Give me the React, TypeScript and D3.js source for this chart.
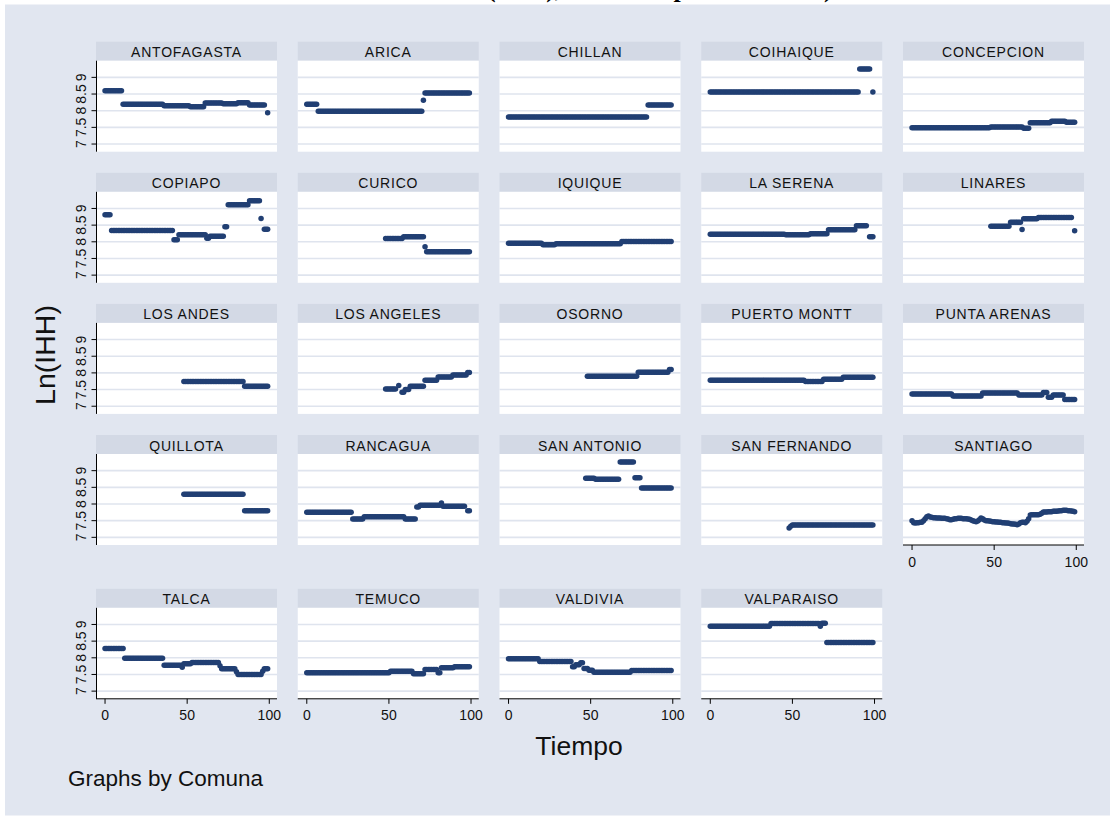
import React, { useEffect } from 'react';
import * as d3 from 'd3';

// [first t, last t, value] -- value held constant over the run
type Run = [number, number, number];

const COMUNAS = [
  'ANTOFAGASTA', 'ARICA', 'CHILLAN', 'COIHAIQUE', 'CONCEPCION',
  'COPIAPO', 'CURICO', 'IQUIQUE', 'LA SERENA', 'LINARES',
  'LOS ANDES', 'LOS ANGELES', 'OSORNO', 'PUERTO MONTT', 'PUNTA ARENAS',
  'QUILLOTA', 'RANCAGUA', 'SAN ANTONIO', 'SAN FERNANDO', 'SANTIAGO',
  'TALCA', 'TEMUCO', 'VALDIVIA', 'VALPARAISO',
];

const ANTOFAGASTA: Run[] = [[0, 10, 8.6], [11, 35, 8.19], [36, 51, 8.15], [52, 60, 8.12], [61, 71, 8.23], [72, 80, 8.21], [81, 87, 8.24], [88, 97, 8.17], [99, 99, 7.94]];
const ARICA: Run[] = [[0, 6, 8.19], [7, 70, 7.98], [71, 71, 8.31], [72, 99, 8.53]];
const CHILLAN: Run[] = [[0, 84, 7.81], [85, 99, 8.17]];
const COIHAIQUE: Run[] = [[0, 90, 8.56], [91, 97, 9.25], [99, 99, 8.56]];
const CONCEPCION: Run[] = [[0, 47, 7.49], [48, 67, 7.51], [68, 71, 7.47], [72, 84, 7.64], [85, 93, 7.68], [94, 99, 7.65]];
const COPIAPO: Run[] = [[0, 3, 8.81], [4, 41, 8.34], [42, 44, 8.06], [45, 61, 8.21], [62, 63, 8.11], [64, 72, 8.17], [73, 74, 8.45], [75, 87, 9.11], [88, 94, 9.23], [95, 95, 8.7], [97, 99, 8.38]];
const CURICO: Run[] = [[48, 58, 8.1], [59, 71, 8.15], [72, 72, 7.85], [73, 99, 7.7]];
const IQUIQUE: Run[] = [[0, 20, 7.96], [21, 28, 7.91], [29, 68, 7.94], [69, 99, 8.01]];
const LA_SERENA: Run[] = [[0, 45, 8.23], [46, 60, 8.21], [61, 71, 8.24], [72, 88, 8.36], [89, 95, 8.48], [97, 99, 8.15]];
const LINARES: Run[] = [[48, 59, 8.47], [60, 66, 8.59], [67, 67, 8.37], [68, 76, 8.69], [77, 97, 8.73], [99, 99, 8.33]];
const LOS_ANDES: Run[] = [[48, 84, 7.74], [85, 99, 7.6]];
const LOS_ANGELES: Run[] = [[48, 54, 7.52], [56, 56, 7.62], [58, 59, 7.42], [60, 62, 7.5], [63, 71, 7.6], [72, 79, 7.78], [80, 88, 7.88], [89, 97, 7.94], [98, 99, 8.01]];
const OSORNO: Run[] = [[48, 78, 7.9], [79, 97, 8.02], [98, 99, 8.1]];
const PUERTO_MONTT: Run[] = [[0, 57, 7.78], [58, 68, 7.74], [69, 80, 7.81], [81, 99, 7.87]];
const PUNTA_ARENAS: Run[] = [[0, 24, 7.37], [25, 42, 7.31], [43, 64, 7.4], [65, 79, 7.34], [80, 82, 7.41], [83, 85, 7.27], [86, 92, 7.34], [93, 99, 7.2]];
const QUILLOTA: Run[] = [[48, 84, 8.29], [85, 99, 7.8]];
const RANCAGUA: Run[] = [[0, 27, 7.75], [28, 34, 7.55], [35, 59, 7.62], [60, 66, 7.55], [67, 68, 7.91], [69, 81, 7.96], [82, 82, 8.03], [83, 96, 7.93], [98, 99, 7.8]];
const SAN_ANTONIO: Run[] = [[47, 52, 8.77], [53, 67, 8.74], [68, 76, 9.26], [77, 80, 8.79], [81, 99, 8.48]];
const SAN_FERNANDO: Run[] = [[48, 48, 7.28], [49, 49, 7.33], [50, 99, 7.37]];
const TALCA: Run[] = [[0, 11, 8.28], [12, 35, 7.99], [36, 46, 7.78], [47, 47, 7.72], [48, 52, 7.82], [53, 69, 7.86], [70, 70, 7.76], [71, 79, 7.67], [80, 80, 7.58], [81, 95, 7.5], [96, 96, 7.6], [97, 99, 7.67]];
const TEMUCO: Run[] = [[0, 50, 7.55], [51, 64, 7.6], [65, 71, 7.52], [72, 79, 7.65], [80, 81, 7.55], [82, 89, 7.7], [90, 99, 7.73]];
const VALDIVIA: Run[] = [[0, 18, 7.97], [19, 38, 7.89], [39, 40, 7.73], [41, 43, 7.79], [44, 45, 7.85], [46, 48, 7.68], [49, 51, 7.63], [52, 74, 7.57], [75, 99, 7.62]];
const VALPARAISO: Run[] = [[0, 36, 8.95], [37, 66, 9.03], [67, 67, 8.95], [68, 70, 9.04], [71, 99, 8.46]];

// Santiago moves every period, so one value per t = 0..99
const SANTIAGO_VALUES = [
  7.5, 7.44, 7.43, 7.44, 7.44, 7.45, 7.45, 7.5, 7.56, 7.62,
  7.64, 7.61, 7.6, 7.59, 7.59, 7.58, 7.58, 7.58, 7.57, 7.57,
  7.57, 7.56, 7.55, 7.53, 7.53, 7.54, 7.56, 7.56, 7.57, 7.57,
  7.57, 7.56, 7.56, 7.56, 7.55, 7.54, 7.52, 7.5, 7.48, 7.47,
  7.49, 7.53, 7.58, 7.56, 7.52, 7.5, 7.5, 7.49, 7.48, 7.47,
  7.47, 7.46, 7.46, 7.45, 7.45, 7.44, 7.44, 7.43, 7.43, 7.42,
  7.41, 7.4, 7.4, 7.39, 7.38, 7.4, 7.44, 7.45, 7.45, 7.44,
  7.48, 7.56, 7.67, 7.68, 7.68, 7.68, 7.68, 7.68, 7.69, 7.72,
  7.76, 7.76, 7.76, 7.77, 7.77, 7.77, 7.78, 7.78, 7.78, 7.79,
  7.8, 7.8, 7.81, 7.81, 7.81, 7.8, 7.8, 7.79, 7.78, 7.77,
];

const X_TICKS = [0, 50, 100];
const Y_TICKS = [7, 7.5, 8, 8.5, 9];

const RUNS: Record<string, Run[]> = {
  ANTOFAGASTA, ARICA, CHILLAN, COIHAIQUE, CONCEPCION,
  COPIAPO, CURICO, IQUIQUE, 'LA SERENA': LA_SERENA, LINARES,
  'LOS ANDES': LOS_ANDES, 'LOS ANGELES': LOS_ANGELES, OSORNO,
  'PUERTO MONTT': PUERTO_MONTT, 'PUNTA ARENAS': PUNTA_ARENAS,
  QUILLOTA, RANCAGUA, 'SAN ANTONIO': SAN_ANTONIO, 'SAN FERNANDO': SAN_FERNANDO,
  TALCA, TEMUCO, VALDIVIA, VALPARAISO,
};

const pointsFor = (name: string): [number, number][] => {
  if (name === 'SANTIAGO') return SANTIAGO_VALUES.map((v, t) => [t, v]);
  const pts: [number, number][] = [];
  RUNS[name].forEach(([a, b, v]) => {
    for (let t = a; t <= b; t++) pts.push([t, v]);
  });
  return pts;
};

const W = 1115;
const H = 820;
const PANEL_W = 181;
const STRIP_H = 19;
const PLOT_H = 91;
const COL_X = [96, 297.75, 499.5, 701.25, 903];
const ROW_Y = [41.7, 172.8, 303.9, 435, 588.8];

const BG = '#e1e6f0';
const STRIP = '#d3d9e5';
const GRID = '#dfe4ee';
const DOT = '#213f73';
const FONT = '"Liberation Sans", Arial, sans-serif';

const x = d3.scaleLinear().domain([-5.5, 104.7]).range([0, PANEL_W]);
const y = d3.scaleLinear().domain([6.77, 9.5]).range([PLOT_H, 0]);

const Panel: React.FC<{ name: string; idx: number }> = ({ name, idx }) => {
  const row = Math.floor(idx / 5);
  const col = idx % 5;
  const left = COL_X[col];
  const showY = col === 0;
  const showX = idx + 5 >= COMUNAS.length;
  const pts = pointsFor(name);
  return (
    <g transform={`translate(${left},${ROW_Y[row]})`}>
      <rect width={PANEL_W} height={STRIP_H} fill={STRIP} />
      <text
        x={PANEL_W / 2}
        y={15.5}
        textAnchor="middle"
        fontFamily={FONT}
        fontSize={14}
        letterSpacing={0.8}
        fill="#111"
      >
        {name}
      </text>
      <g transform={`translate(0,${STRIP_H})`}>
        <rect width={PANEL_W} height={PLOT_H} fill="#fff" />
        {Y_TICKS.map((t) => (
          <line key={t} x1={0} x2={PANEL_W} y1={y(t)} y2={y(t)} stroke={GRID} strokeWidth={1.6} />
        ))}
        {pts.map(([t, v], i) => (
          <circle key={i} cx={x(t)} cy={y(v)} r={2.75} fill={DOT} />
        ))}
        {showY && (
          <g>
            <line x1={0.5} x2={0.5} y1={0} y2={PLOT_H} stroke="#000" strokeWidth={1} />
            {Y_TICKS.map((t) => (
              <g key={t}>
                <line x1={-4.5} x2={0.5} y1={y(t)} y2={y(t)} stroke="#000" strokeWidth={1} />
                <text
                  transform={`translate(-10.5,${y(t)}) rotate(-90)`}
                  textAnchor="middle"
                  fontFamily={FONT}
                  fontSize={14}
                  fill="#111"
                >
                  {t}
                </text>
              </g>
            ))}
          </g>
        )}
        {showX && (
          <g transform={`translate(0,${PLOT_H})`}>
            <line x1={0} x2={PANEL_W} y1={0} y2={0} stroke="#000" strokeWidth={1} />
            {X_TICKS.map((t) => (
              <g key={t}>
                <line x1={x(t)} x2={x(t)} y1={0} y2={5} stroke="#000" strokeWidth={1} />
                <text x={x(t)} y={21.5} textAnchor="middle" fontFamily={FONT} fontSize={14} fill="#111">
                  {t}
                </text>
              </g>
            ))}
          </g>
        )}
      </g>
    </g>
  );
};

export default function App() {
  useEffect(() => {
    document.body.style.margin = '0';
  }, []);

  return (
    <svg width={W} height={H} style={{ display: 'block', background: '#fff' }}>
      <rect x={5} y={4.5} width={1105} height={811} fill={BG} />
      <text
        x={487}
        y={-3.5}
        textAnchor="end"
        fontFamily='"Liberation Serif", serif'
        fontWeight="bold"
        fontSize={26}
      >
        Evolución del Ln
      </text>
      <text x={487} y={-3.5} fontFamily='"Liberation Serif", serif' fontWeight="bold" fontSize={26}>
        (IHH), Mercado por Comunas)
      </text>
      {COMUNAS.map((name, i) => (
        <Panel key={name} name={name} idx={i} />
      ))}
      <text
        transform="translate(55,355) rotate(-90)"
        textAnchor="middle"
        fontFamily={FONT}
        fontSize={28.5}
        fill="#111"
      >
        Ln(IHH)
      </text>
      <text x={579} y={755} textAnchor="middle" fontFamily={FONT} fontSize={26.5} fill="#111">
        Tiempo
      </text>
      <text x={68} y={786} fontFamily={FONT} fontSize={22.5} fill="#111">
        Graphs by Comuna
      </text>
    </svg>
  );
}
